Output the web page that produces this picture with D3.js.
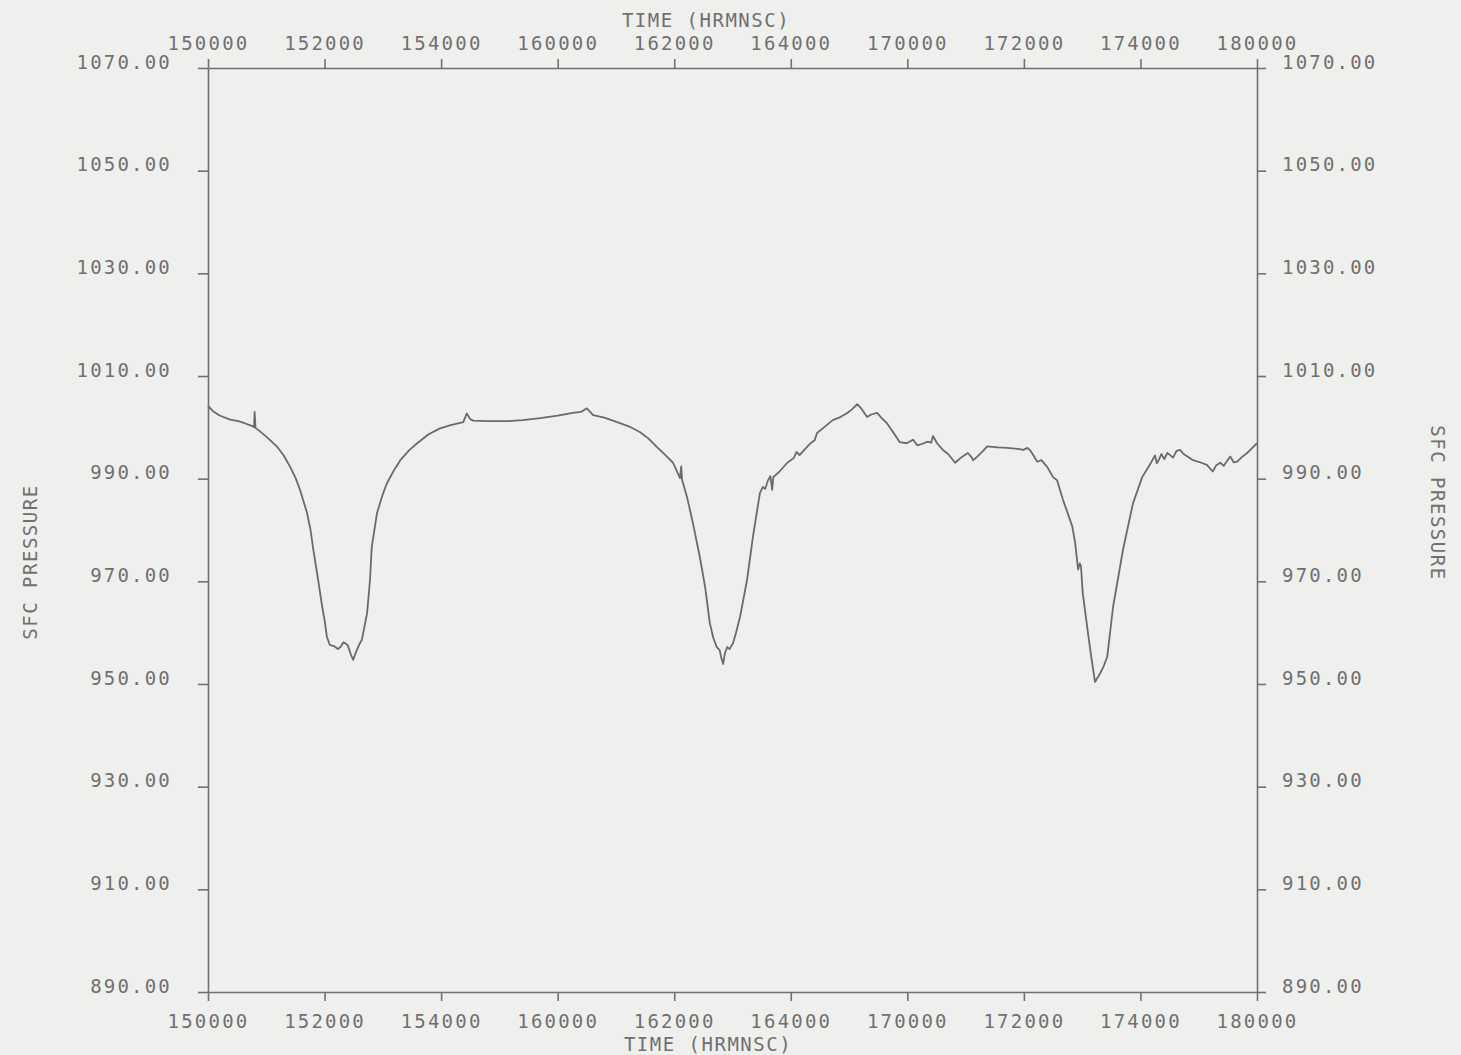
<!DOCTYPE html>
<html>
<head>
<meta charset="utf-8">
<script src="https://cdn.jsdelivr.net/npm/d3@7"></script>
<style>
  html, body { margin: 0; padding: 0; background: #efefed; }
  svg { display: block; }
</style>
</head>
<body>
<svg id="chart" width="1461" height="1055"></svg>
<script>
// elapsed minutes since 15:00:00 (HRMNSC 150000)
const minutes = [
  0, 0.8, 2.0, 3.8, 5.2, 6.3, 7.5, 7.9, 8.0, 8.15, 8.6, 10.0, 11.8, 13.0, 14.1, 15.0, 15.8, 17.0, 17.6, 18.0,
  18.9, 19.6, 20.0, 20.4, 20.9, 21.6, 22.3, 22.8, 23.2, 23.6, 24.0, 24.5, 24.9, 25.4, 26.0, 26.4, 27.3, 27.8, 28.1, 29.0,
  30.0, 30.7, 32.0, 33.0, 34.5, 35.9, 37.8, 39.8, 41.8, 43.8, 44.4, 45.0, 45.5, 48.0, 51.3, 54.0, 57.0, 60.0, 62.6, 64.0,
  65.0, 66.1, 68.0, 70.2, 72.2, 74.1, 75.6, 77.0, 78.5, 79.8, 81.0, 81.2, 81.35, 82.2, 83.2, 84.4, 85.3, 86.1, 86.7, 87.3,
  87.8, 88.1, 88.4, 88.7, 89.1, 89.5, 90.1, 90.6, 91.3, 92.5, 93.5, 94.7, 95.2, 95.6, 96.1, 96.5, 96.8, 97.0, 98.0, 99.4,
  100.5, 101.0, 101.5, 102.8, 103.5, 104.1, 104.5, 105.5, 107.2, 108.5, 109.7, 110.5, 111.4, 112.0, 113.1, 113.8, 114.8, 115.6, 116.5, 117.6,
  118.7, 119.9, 120.5, 121.0, 121.7, 122.6, 123.5, 124.1, 124.4, 125.1, 126.1, 127.0, 128.2, 129.0, 129.6, 130.4, 131.0, 131.3, 132.0, 133.0,
  133.7, 135.5, 137.1, 139.0, 139.9, 140.6, 141.1, 141.6, 142.3, 143.0, 144.0, 145.0, 145.7, 146.7, 147.6, 148.3, 148.8, 149.3, 149.6, 149.8,
  150.1, 151.0, 151.6, 152.2, 153.1, 153.7, 154.3, 155.3, 157.0, 158.7, 160.3, 161.5, 162.5, 162.8, 163.0, 163.6, 164.1, 164.6, 165.1, 165.6,
  166.2, 166.8, 167.4, 168.2, 169.0, 170.2, 171.4, 172.4, 173.0, 173.7, 174.3, 175.4, 176.0, 176.6, 177.4, 178.3, 179.2, 180.0
];
// surface pressure (hPa)
const pressure = [
  1004.2, 1003.2, 1002.3, 1001.5, 1001.2, 1000.8, 1000.3, 1000.0, 1003.0, 999.9, 999.5, 998.2, 996.3, 994.5, 992.3, 990.2, 987.8, 983.3, 980.0, 976.7,
  970.3, 965.0, 962.5, 959.2, 957.6, 957.4, 956.8, 957.3, 958.1, 957.9, 957.5, 955.8, 954.7, 956.2, 957.8, 958.6, 963.8, 970.3, 976.7, 983.3,
  987.0, 989.1, 991.8, 993.6, 995.5, 996.9, 998.6, 999.8, 1000.5, 1001.0, 1002.7, 1001.6, 1001.3, 1001.2, 1001.2, 1001.4, 1001.8, 1002.3, 1002.8, 1003.0,
  1003.7, 1002.4, 1001.9, 1001.0, 1000.2, 999.1, 997.8, 996.2, 994.6, 993.1, 990.1, 992.4, 989.8, 986.4, 981.4, 974.7, 968.9, 961.9, 959.0, 957.2,
  956.6, 955.0, 953.9, 956.0, 957.2, 956.8, 958.0, 960.0, 963.1, 970.3, 978.6, 987.2, 988.4, 988.0, 989.7, 990.5, 987.8, 990.3, 991.3, 993.1,
  994.0, 995.2, 994.6, 996.2, 997.0, 997.5, 998.9, 999.8, 1001.4, 1002.0, 1002.8, 1003.5, 1004.5, 1003.8, 1002.0, 1002.5, 1002.8, 1001.8, 1000.8, 999.0,
  997.1, 996.9, 997.3, 997.6, 996.5, 996.8, 997.2, 997.0, 998.3, 996.9, 995.6, 994.8, 993.1, 993.9, 994.4, 995.0, 994.2, 993.6, 994.3, 995.4,
  996.3, 996.1, 996.0, 995.8, 995.6, 996.0, 995.5, 994.6, 993.3, 993.6, 992.3, 990.3, 989.7, 985.9, 983.0, 980.7, 977.5, 972.3, 973.5, 972.9,
  967.7, 959.9, 955.0, 950.4, 952.1, 953.5, 955.3, 965.0, 976.1, 985.1, 990.3, 992.5, 994.5, 993.0, 993.3, 994.8, 993.8, 995.0, 994.6, 994.1,
  995.4, 995.6, 994.8, 994.2, 993.6, 993.2, 992.7, 991.4, 992.6, 993.1, 992.5, 994.3, 993.2, 993.3, 994.2, 995.0, 996.0, 996.9
];

const timeTicks = [0, 20, 40, 60, 80, 100, 120, 140, 160, 180];
const timeLabels = ["150000", "152000", "154000", "160000", "162000", "164000", "170000", "172000", "174000", "180000"];
const pressureTicks = [890, 910, 930, 950, 970, 990, 1010, 1030, 1050, 1070];
const pressureLabels = ["890.00", "910.00", "930.00", "950.00", "970.00", "990.00", "1010.00", "1030.00", "1050.00", "1070.00"];
const xTitle = "TIME (HRMNSC)";
const yTitle = "SFC PRESSURE";

const ink = "#707070";
const fontFam = "'DejaVu Sans Mono', monospace";

const svg = d3.select("#chart");
const x = d3.scaleLinear().domain([0, 180]).range([208, 1257]);
const y = d3.scaleLinear().domain([890, 1070]).range([992, 68]);

function styleAxis(g) {
  g.select(".domain").attr("stroke", ink).attr("stroke-width", 1.6);
  g.selectAll(".tick line").attr("stroke", ink).attr("stroke-width", 1.6);
  g.selectAll(".tick text")
    .attr("fill", ink)
    .style("font-family", fontFam)
    .style("font-size", "19px")
    .style("letter-spacing", "2.2px");
}

// top axis
svg.append("g").attr("transform", "translate(0,68)")
  .call(d3.axisTop(x).tickValues(timeTicks).tickFormat((d, i) => timeLabels[i])
        .tickSize(9).tickSizeOuter(0).tickPadding(9))
  .call(styleAxis);

// bottom axis
const gb = svg.append("g").attr("transform", "translate(0,992)")
  .call(d3.axisBottom(x).tickValues(timeTicks).tickFormat((d, i) => timeLabels[i])
        .tickSize(9).tickSizeOuter(0))
  .call(styleAxis);
gb.selectAll(".tick text").attr("y", 36).attr("dy", "0");

// left axis
const gl = svg.append("g").attr("transform", "translate(208,0)")
  .call(d3.axisLeft(y).tickValues(pressureTicks).tickFormat((d, i) => pressureLabels[i])
        .tickSize(10).tickSizeOuter(0).tickPadding(26))
  .call(styleAxis);
gl.selectAll(".tick text").attr("dy", "0");

// right axis
const gr = svg.append("g").attr("transform", "translate(1257,0)")
  .call(d3.axisRight(y).tickValues(pressureTicks).tickFormat((d, i) => pressureLabels[i])
        .tickSize(9).tickSizeOuter(0).tickPadding(16))
  .call(styleAxis);
gr.selectAll(".tick text").attr("dy", "0");

// titles
function title(sel) {
  return sel.attr("fill", ink).style("font-family", fontFam)
    .style("font-size", "19px").style("letter-spacing", "1.5px")
    .attr("text-anchor", "middle");
}
title(svg.append("text").attr("x", 706).attr("y", 27).text(xTitle));
title(svg.append("text").attr("x", 708).attr("y", 1051).text(xTitle));
title(svg.append("text").attr("transform", "translate(37,562) rotate(-90)").text(yTitle));
title(svg.append("text").attr("transform", "translate(1431,503) rotate(90)").text(yTitle));

// data line
const data = minutes.map((m, i) => ({ m, p: pressure[i] }));
svg.append("path")
  .datum(data)
  .attr("fill", "none")
  .attr("stroke", "#6a6a6a")
  .attr("stroke-width", 1.8)
  .attr("stroke-linejoin", "round")
  .attr("d", d3.line().x(d => x(d.m)).y(d => y(d.p)));
</script>
</body>
</html>
